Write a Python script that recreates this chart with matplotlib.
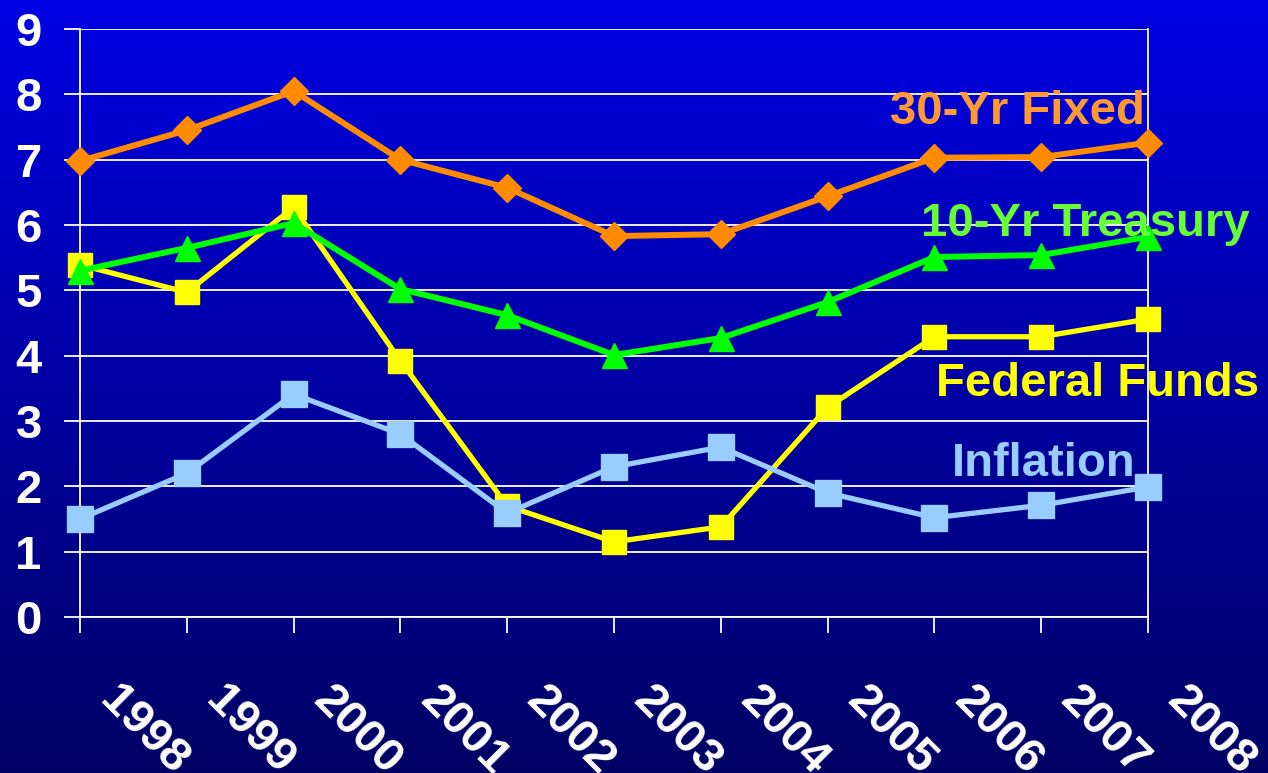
import numpy as np
import matplotlib.pyplot as plt
from matplotlib.transforms import ScaledTranslation

plt.rcParams['font.family'] = ['Liberation Sans', 'DejaVu Sans']
plt.rcParams['font.weight'] = 'bold'

# Data
years = ['1998', '1999', '2000', '2001', '2002', '2003', '2004', '2005', '2006', '2007', '2008']
fixed30 = [6.98, 7.45, 8.05, 7.0, 6.57, 5.83, 5.86, 6.44, 7.03, 7.04, 7.26]
treasury10 = [5.3, 5.65, 6.03, 5.02, 4.62, 4.01, 4.27, 4.82, 5.51, 5.54, 5.82]
fedfunds = [5.39, 4.97, 6.27, 3.92, 1.7, 1.15, 1.38, 3.21, 4.29, 4.29, 4.56]
inflation = [1.5, 2.2, 3.41, 2.8, 1.59, 2.3, 2.6, 1.9, 1.52, 1.71, 1.99]

fig = plt.figure(figsize=(12.68, 7.73), dpi=100)

# gradient background
bg = fig.add_axes([0, 0, 1, 1], zorder=-10)
grad = np.linspace(0, 1, 256).reshape(-1, 1)
top = np.array([0, 0, 228]) / 255
bot = np.array([0, 0, 100]) / 255
img = top + (bot - top) * grad[..., None]
bg.imshow(img, aspect='auto', extent=[0, 1, 0, 1])
bg.axis('off')

ax = fig.add_axes([80 / 1268, 1 - 617 / 773, (1148 - 80) / 1268, (617 - 29) / 773])
ax.patch.set_alpha(0)
x = np.arange(len(years))

ax.plot(x, fedfunds, color='#FFFF00', lw=3.8, marker='s', ms=17, zorder=3, clip_on=False)
ax.plot(x, inflation, color='#99CCFF', lw=3.8, marker='s', ms=19, zorder=4, clip_on=False)
ax.plot(x, treasury10, color='#00FF00', lw=4.3, marker='^', ms=18, zorder=5, clip_on=False)
ax.plot(x, fixed30, color='#FF8C00', lw=4.3, marker='D', ms=14, zorder=6, clip_on=False)

ax.set_xlim(0, 10)
ax.set_ylim(0, 9)
ax.set_yticks(range(10))
ax.set_xticks(x)
ax.set_xticklabels([])

# rotated year labels below the axis
lab_tr = ax.get_xaxis_transform() + ScaledTranslation(0.26, -0.77, fig.dpi_scale_trans)
for xi, yr in zip(x, years):
    ax.text(xi, 0, yr, transform=lab_tr, rotation=-45, rotation_mode='anchor',
            ha='left', va='center', color='white', fontsize=34, fontweight='bold', clip_on=False)

ax.grid(axis='y', color='white', lw=1.3, zorder=1)
ax.tick_params(axis='both', colors='white', labelsize=34, length=11.5, width=1.3, direction='out')
ax.tick_params(axis='y', pad=16)
for lab in ax.get_yticklabels():
    lab.set_fontweight('bold')
for s in ax.spines.values():
    s.set_color('white')
    s.set_linewidth(1.3)
ax.spines['top'].set_visible(False)

# series labels
fs = 34
ax.text(1145 / 1268, 1 - 112 / 773, '30-Yr Fixed', transform=fig.transFigure, color='#FF9933',
        fontsize=fs, fontweight='bold', ha='right', va='center', zorder=10)
ax.text(921 / 1268, 1 - 224 / 773, '10-Yr Treasury', transform=fig.transFigure, color='#66FF33',
        fontsize=fs, fontweight='bold', ha='left', va='center', zorder=10)
ax.text(936 / 1268, 1 - 384 / 773, 'Federal Funds', transform=fig.transFigure, color='#FFFF00',
        fontsize=fs, fontweight='bold', ha='left', va='center', zorder=10)
ax.text(952 / 1268, 1 - 464 / 773, 'Inflation', transform=fig.transFigure, color='#99CCFF',
        fontsize=fs, fontweight='bold', ha='left', va='center', zorder=10)

fig.savefig('out.png', dpi=100)
